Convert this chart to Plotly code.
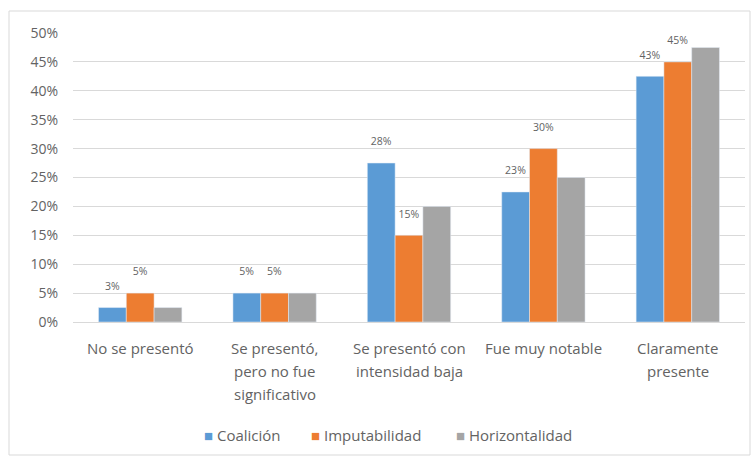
import plotly.graph_objects as go

categories = ["No se presentó", "Se presentó, pero no fue significativo",
              "Se presentó con intensidad baja", "Fue muy notable",
              "Claramente presente"]
category_lines = [["No se presentó"], ["Se presentó,", "pero no fue", "significativo"],
                  ["Se presentó con", "intensidad baja"], ["Fue muy notable"],
                  ["Claramente", "presente"]]
series_names = ["Coalición", "Imputabilidad", "Horizontalidad"]
coalicion = [2.5, 5, 27.5, 22.5, 42.5]
imputabilidad = [5, 5, 15, 30, 45]
horizontalidad = [2.5, 5, 20, 25, 47.5]
coalicion_labels = ["3%", "5%", "28%", "23%", "43%"]
imputabilidad_labels = ["5%", "5%", "15%", "30%", "45%"]
y_ticks = [0, 5, 10, 15, 20, 25, 30, 35, 40, 45, 50]
y_tick_labels = ["0%", "5%", "10%", "15%", "20%", "25%", "30%", "35%", "40%", "45%", "50%"]

FONT = "Open Sans, sans-serif"
TXT = "#636363"
COLORS = ["#5B9BD5", "#ED7D31", "#A5A5A5"]
PAD = "<br><span style='font-size:4px'> </span>"

fig = go.Figure()
fig.add_trace(go.Bar(name=series_names[0], x=categories, y=coalicion, marker_color=COLORS[0],
                     text=[t + PAD for t in coalicion_labels], textposition="outside",
                     textfont=dict(size=10.5, color=TXT, family=FONT), cliponaxis=False))
fig.add_trace(go.Bar(name=series_names[1], x=categories, y=imputabilidad, marker_color=COLORS[1],
                     text=[t + PAD for t in imputabilidad_labels], textposition="outside",
                     textfont=dict(size=10.5, color=TXT, family=FONT), cliponaxis=False))
fig.add_trace(go.Bar(name=series_names[2], x=categories, y=horizontalidad, marker_color=COLORS[2]))

L, R, T, B = 73, 7, 33, 136
W, H = 752, 458
pw, ph = W - L - R, H - T - B

def px2x(px):
    return (px - L) / pw

def py2y(py):
    return (H - B - py) / ph

fig.add_shape(type="rect", xref="paper", yref="paper",
              x0=px2x(9), x1=px2x(750), y0=py2y(455), y1=py2y(11),
              line=dict(color="#D9D9D9", width=1), layer="below")

# category labels, one annotation per line (Excel-like line spacing)
for cat, lines in zip(categories, category_lines):
    for i, line in enumerate(lines):
        fig.add_annotation(x=cat, xref="x", y=py2y(348 + 23 * i), yref="paper",
                           text=line, showarrow=False, xanchor="center", yanchor="middle",
                           font=dict(size=15, color=TXT, family=FONT))

# legend built as compact text entries
legend_x = [202, 309, 454]
for name, col, lx in zip(series_names, COLORS, legend_x):
    fig.add_annotation(x=px2x(lx), xref="paper", y=py2y(435), yref="paper",
                       text=f"<span style='color:{col}'>■</span> {name}", showarrow=False,
                       xanchor="left", yanchor="middle",
                       font=dict(size=15, color=TXT, family=FONT))

fig.update_layout(
    width=W, height=H,
    margin=dict(l=L, r=R, t=T, b=B),
    paper_bgcolor="white", plot_bgcolor="white",
    barmode="group", bargap=0.38, bargroupgap=0,
    font=dict(family=FONT, size=12, color=TXT),
    showlegend=False,
    xaxis=dict(showgrid=False, showline=True, linecolor="#D9D9D9", linewidth=1,
               ticks="", showticklabels=False),
    yaxis=dict(range=[0, 50], tickvals=y_ticks, ticktext=y_tick_labels, showgrid=True,
               gridcolor="#D9D9D9", gridwidth=1, zeroline=False, showline=False,
               tickfont=dict(size=14, color=TXT, family=FONT), ticklabelstandoff=14),
)

fig.write_html("out.html")
